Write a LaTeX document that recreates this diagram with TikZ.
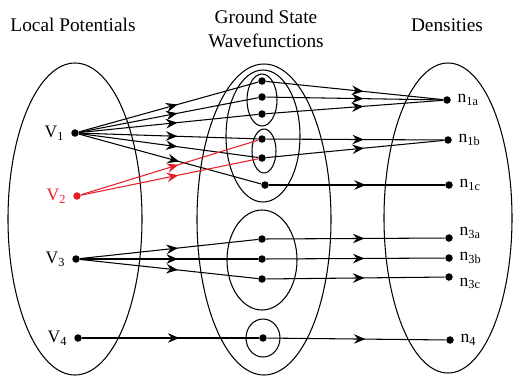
\documentclass[tikz,border=0pt]{standalone}
\usepackage{fontspec}
\setmainfont{Liberation Serif}
\usetikzlibrary{arrows.meta,decorations.markings}
\definecolor{potred}{RGB}{232,30,38}

\begin{document}
\begin{tikzpicture}[x=0.2mm,y=-0.2mm,line width=0.6pt,
  dot/.style={circle,fill,inner sep=0pt,minimum size=1.5mm},
  head/.style={font=\fontsize{11}{13.5}\selectfont,align=center},
  vlab/.style={font=\fontsize{12}{14}\selectfont,label distance=0.3mm},
  nlab/.style={font=\fontsize{11}{13}\selectfont,label distance=0.8mm},
  flow/.style={postaction={decorate},decoration={markings,
    mark=at position 0.55 with {\arrow{Stealth[length=2.3mm,width=1.9mm,inset=0.8mm]}}}}]
  \useasboundingbox (0,0) rectangle (513,381);
  % headers
  \node[head] (hpot) at (73,25) {Local Potentials};
  \node[head] (hwav) at (266,29) {Ground State\\Wavefunctions};
  \node[head] (hden) at (447,25) {Densities};
  % sets
  \draw (75,219) ellipse [x radius=67,y radius=156];
  \draw (264,219.5) ellipse [x radius=67,y radius=155.5];
  \draw (448,218) ellipse [x radius=64,y radius=155];
  \draw (263,136) ellipse [x radius=37,y radius=66];
  \draw (262,100) ellipse [x radius=15,y radius=26];
  \draw (264,151) ellipse [x radius=12,y radius=22];
  \draw (262,260) ellipse [x radius=35,y radius=50];
  \draw (263,338) ellipse [x radius=17,y radius=19];
  % potentials
  \node[dot,vlab,label=left:V\textsubscript{1}] (V1) at (75,133) {};
  \node[dot,vlab,potred,label={[potred]left:V\textsubscript{2}}] (V2) at (77,196) {};
  \node[dot,vlab,label=left:V\textsubscript{3}] (V3) at (76,259) {};
  \node[dot,vlab,label=left:V\textsubscript{4}] (V4) at (78,338) {};
  % wavefunctions
  \node[dot] (w1a1) at (262,81) {};
  \node[dot] (w1a2) at (262,97) {};
  \node[dot] (w1a3) at (262,114) {};
  \node[dot] (w1b1) at (262,139) {};
  \node[dot] (w1b2) at (262,158) {};
  \node[dot] (w1c) at (265,185) {};
  \node[dot] (w3a) at (262,239) {};
  \node[dot] (w3b) at (262,259) {};
  \node[dot] (w3c) at (262,279) {};
  \node[dot] (w4) at (263,338) {};
  % densities
  \node[dot,nlab,label=right:n\textsubscript{1a}] (n1a) at (447,100) {};
  \node[dot,nlab,label=right:n\textsubscript{1b}] (n1b) at (448,140) {};
  \node[dot,nlab,label=right:n\textsubscript{1c}] (n1c) at (449,185) {};
  \node[dot,nlab,label={[yshift=1mm]right:n\textsubscript{3a}}] (n3a) at (449,238) {};
  \node[dot,nlab,label=right:n\textsubscript{3b}] (n3b) at (449,258) {};
  \node[dot,nlab,label={[yshift=-1.3mm]right:n\textsubscript{3c}}] (n3c) at (449,277) {};
  \node[dot,nlab,label=right:n\textsubscript{4}] (n4) at (450,340) {};
  % maps
  \foreach \w in {w1a1,w1a2,w1a3,w1b1,w1b2,w1c}
    \draw[flow] (V1) -- (\w);
  \foreach \w in {w1b1,w1b2}
    \draw[flow,potred] (V2) -- (\w);
  \foreach \w in {w3a,w3b,w3c}
    \draw[flow] (V3) -- (\w);
  \draw[flow] (V4) -- (w4);
  \foreach \w/\n in {w1a1/n1a,w1a2/n1a,w1a3/n1a,w1b1/n1b,w1b2/n1b,w1c/n1c,
                     w3a/n3a,w3b/n3b,w3c/n3c,w4/n4}
    \draw[flow] (\w) -- (\n);
\end{tikzpicture}
\end{document}
